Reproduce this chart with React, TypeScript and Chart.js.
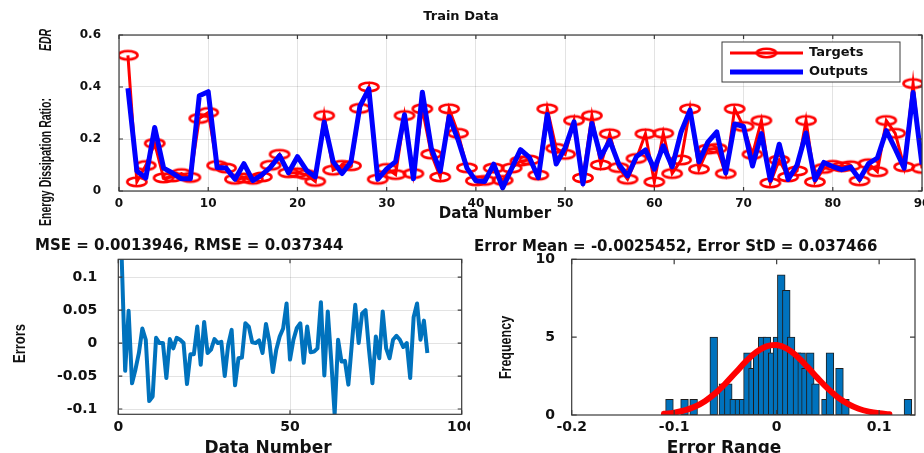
import React, { useEffect, useRef } from "react";
import { Chart, registerables } from "chart.js";

Chart.register(...registerables);

// ---------------- data ----------------
const dataNumber = Array.from({ length: 90 }, (_, i) => i + 1);

const targets = [
  0.522, 0.035, 0.098, 0.183, 0.05, 0.054, 0.067, 0.052, 0.279, 0.302,
  0.098, 0.088, 0.045, 0.05, 0.045, 0.054, 0.099, 0.141, 0.07, 0.07,
  0.063, 0.037, 0.29, 0.08, 0.099, 0.097, 0.318, 0.4, 0.045, 0.087,
  0.063, 0.29, 0.067, 0.316, 0.142, 0.054, 0.316, 0.222, 0.089, 0.039,
  0.041, 0.088, 0.041, 0.088, 0.115, 0.119, 0.061, 0.316, 0.164, 0.141,
  0.271, 0.05, 0.29, 0.1, 0.22, 0.09, 0.045, 0.125, 0.22, 0.035,
  0.222, 0.067, 0.119, 0.316, 0.084, 0.161, 0.164, 0.067, 0.316, 0.248,
  0.141, 0.271, 0.031, 0.119, 0.054, 0.077, 0.271, 0.035, 0.087, 0.099,
  0.093, 0.097, 0.039, 0.105, 0.074, 0.271, 0.222, 0.093, 0.413, 0.087,
];

const outputs = [
  0.395, 0.077, 0.05, 0.244, 0.088, 0.069, 0.047, 0.047, 0.366, 0.382,
  0.09, 0.088, 0.045, 0.105, 0.04, 0.062, 0.092, 0.136, 0.07, 0.132,
  0.08, 0.054, 0.265, 0.113, 0.067, 0.112, 0.326, 0.393, 0.045, 0.085,
  0.113, 0.293, 0.047, 0.38, 0.165, 0.076, 0.286, 0.197, 0.088, 0.039,
  0.037, 0.103, 0.012, 0.086, 0.159, 0.129, 0.051, 0.294, 0.104, 0.166,
  0.266, 0.027, 0.26, 0.13, 0.195, 0.104, 0.058, 0.133, 0.158, 0.084,
  0.174, 0.093, 0.227, 0.311, 0.112, 0.188, 0.227, 0.069, 0.258, 0.248,
  0.096, 0.221, 0.041, 0.18, 0.044, 0.1, 0.223, 0.043, 0.11, 0.094,
  0.082, 0.092, 0.045, 0.105, 0.127, 0.232, 0.162, 0.088, 0.379, 0.102,
];

const errors = [
  0.127, -0.042, 0.049, -0.061, -0.04, -0.015, 0.022, 0.005, -0.088, -0.081,
  0.008, 0, 0, -0.053, 0.006, -0.008, 0.008, 0.005, 0, -0.062,
  -0.017, -0.017, 0.025, -0.033, 0.032, -0.015, -0.01, 0.006, 0, 0.002,
  -0.05, -0.003, 0.02, -0.064, -0.023, -0.022, 0.03, 0.025, 0.001, 0,
  0.004, -0.015, 0.029, 0.002, -0.044, -0.01, 0.01, 0.022, 0.06, -0.025,
  0.005, 0.023, 0.03, -0.03, 0.025, -0.014, -0.013, -0.008, 0.062, -0.049,
  0.048, -0.026, -0.108, 0.005, -0.028, -0.027, -0.063, -0.002, 0.058, 0,
  0.045, 0.05, -0.01, -0.061, 0.01, -0.023, 0.048, -0.008, -0.023, 0.005,
  0.011, 0.005, -0.006, 0, -0.053, 0.039, 0.06, 0.005, 0.034, -0.015,
];

const histCenters = [
  -0.1046, -0.0899, -0.081, -0.0614, -0.0525, -0.0472, -0.0419, -0.0369, -0.0328, -0.0285,
  -0.0236, -0.019, -0.0141, -0.0095, -0.0044, 0.0003, 0.0045, 0.0094, 0.0141, 0.0198,
  0.0244, 0.0281, 0.0328, 0.0379, 0.0476, 0.052, 0.0613, 0.0671, 0.1281,
];
const histCounts = [
  1, 1, 1, 5, 2, 2, 1, 1, 1, 4,
  3, 4, 5, 5, 4, 5, 9, 8, 5, 4,
  4, 3, 4, 2, 1, 4, 3, 1, 1,
];

const fitX = [
  -0.11, -0.1, -0.09, -0.08, -0.07, -0.06, -0.05, -0.04, -0.03, -0.02, -0.01, 0,
  0.01, 0.02, 0.03, 0.04, 0.05, 0.06, 0.07, 0.08, 0.09, 0.1, 0.11,
];
const fitY = [
  0.074, 0.153, 0.296, 0.531, 0.89, 1.39, 2.02, 2.73, 3.44, 4.04, 4.41, 4.49,
  4.26, 3.76, 3.09, 2.37, 1.69, 1.12, 0.7, 0.4, 0.215, 0.107, 0.05,
];

const trainXTicks = [0, 10, 20, 30, 40, 50, 60, 70, 80, 90];
const trainYTicks = [0, 0.2, 0.4, 0.6];
const errXTicks = [0, 50, 100];
const errYTicks = [-0.1, -0.05, 0, 0.05, 0.1];
const histXTicks = [-0.2, -0.1, 0, 0.1];
const histYTicks = [0, 5, 10];

const trainTitle = "Train Data";
const errTitle = "MSE = 0.0013946, RMSE = 0.037344";
const histTitle = "Error Mean = -0.0025452, Error StD = 0.037466";

// ---------------- helpers ----------------
const BOLD = "'DejaVu Sans', 'Liberation Sans', sans-serif";
const SANS = "'Liberation Sans', Arial, sans-serif";
const GRID = "rgba(0,0,0,0.11)";
const TXT = "#111111";

function fixedTicks(values: number[]) {
  return (scale: any) => {
    scale.ticks = values.map((v) => ({ value: v }));
  };
}
function fitW(w: number) {
  return (scale: any) => {
    scale.width = w;
    scale.paddingTop = 0;
    scale.paddingBottom = 0;
    scale.paddingLeft = 0;
    scale.paddingRight = 0;
  };
}
function fitH(h: number) {
  return (scale: any) => {
    scale.height = h;
    scale.paddingTop = 0;
    scale.paddingBottom = 0;
    scale.paddingLeft = 0;
    scale.paddingRight = 0;
  };
}

function boxPlugin(tickLen: number) {
  return {
    id: "matlabBox",
    afterDatasetsDraw(chart: any) {
      const { ctx, chartArea: a, scales } = chart;
      ctx.save();
      ctx.strokeStyle = "#3a3a3a";
      ctx.lineWidth = 1.2;
      ctx.beginPath();
      for (const t of scales.x.ticks) {
        const px = scales.x.getPixelForValue(t.value);
        ctx.moveTo(px, a.bottom);
        ctx.lineTo(px, a.bottom - tickLen);
        ctx.moveTo(px, a.top);
        ctx.lineTo(px, a.top + tickLen);
      }
      for (const t of scales.y.ticks) {
        const py = scales.y.getPixelForValue(t.value);
        ctx.moveTo(a.left, py);
        ctx.lineTo(a.left + tickLen, py);
        ctx.moveTo(a.right, py);
        ctx.lineTo(a.right - tickLen, py);
      }
      ctx.stroke();
      ctx.strokeRect(a.left, a.top, a.right - a.left, a.bottom - a.top);
      ctx.restore();
    },
  };
}

type TextItem = {
  text: string;
  x: number;
  y: number;
  font: string;
  rotate?: number;
  sx?: number;
};

function textPlugin(items: TextItem[]) {
  return {
    id: "extraText",
    afterDraw(chart: any) {
      const ctx = chart.ctx;
      for (const t of items) {
        ctx.save();
        ctx.font = t.font;
        ctx.fillStyle = TXT;
        ctx.textAlign = "center";
        ctx.textBaseline = "middle";
        ctx.translate(t.x, t.y);
        if (t.sx) ctx.scale(t.sx, 1);
        if (t.rotate) ctx.rotate((t.rotate * Math.PI) / 180);
        ctx.fillText(t.text, 0, 0);
        ctx.restore();
      }
    },
  };
}

function legendPlugin(marker: HTMLCanvasElement) {
  return {
    id: "matlabLegend",
    afterDraw(chart: any) {
      const ctx = chart.ctx;
      const ds = chart.data.datasets;
      const bx = 722, by = 42, bw = 178, bh = 40;
      ctx.save();
      ctx.fillStyle = "#ffffff";
      ctx.fillRect(bx, by, bw, bh);
      ctx.strokeStyle = "#3a3a3a";
      ctx.lineWidth = 1;
      ctx.strokeRect(bx, by, bw, bh);
      const rows = [
        { y: by + 11, d: ds[0], marker: true },
        { y: by + 30, d: ds[1], marker: false },
      ];
      for (const r of rows) {
        ctx.strokeStyle = r.d.borderColor;
        ctx.lineWidth = r.d.borderWidth;
        ctx.beginPath();
        ctx.moveTo(730, r.y);
        ctx.lineTo(803, r.y);
        ctx.stroke();
        if (r.marker) {
          ctx.drawImage(marker, 766.5 - marker.width / 2, r.y - marker.height / 2);
        }
        ctx.fillStyle = TXT;
        ctx.font = `bold 13px ${BOLD}`;
        ctx.textAlign = "left";
        ctx.textBaseline = "middle";
        ctx.fillText(r.d.label, 809, r.y);
      }
      ctx.restore();
    },
  };
}

function makeEllipse(): HTMLCanvasElement {
  const c = document.createElement("canvas");
  c.width = 24;
  c.height = 14;
  const g = c.getContext("2d")!;
  g.strokeStyle = "#ff0000";
  g.lineWidth = 2.6;
  g.beginPath();
  g.ellipse(12, 7, 9.6, 4.2, 0, 0, Math.PI * 2);
  g.stroke();
  return c;
}

function tickFont(size: number) {
  return { family: BOLD, weight: "bold" as const, size, lineHeight: 1.2 };
}

// ---------------- component ----------------
export default function App() {
  const topRef = useRef<HTMLCanvasElement>(null);
  const errRef = useRef<HTMLCanvasElement>(null);
  const histRef = useRef<HTMLCanvasElement>(null);

  useEffect(() => {
    const marker = makeEllipse();
    Chart.defaults.font.family = BOLD;

    const top = new Chart(topRef.current!, {
      type: "line",
      data: {
        datasets: [
          {
            label: "Targets",
            data: dataNumber.map((x, i) => ({ x, y: targets[i] })),
            borderColor: "#ff0000",
            borderWidth: 3,
            pointStyle: marker as any,
            pointRadius: 7,
            pointBorderWidth: 0,
            tension: 0,
            order: 1,
          },
          {
            label: "Outputs",
            data: dataNumber.map((x, i) => ({ x, y: outputs[i] })),
            borderColor: "#0000ff",
            borderWidth: 5,
            pointRadius: 0,
            tension: 0,
            borderJoinStyle: "round",
            order: 0,
          },
        ],
      },
      options: {
        animation: false,
        responsive: false,
        events: [],
        layout: { padding: { left: 0, right: 2, top: 0, bottom: 0 }, autoPadding: false },
        plugins: {
          legend: { display: false },
          tooltip: { enabled: false },
          title: {
            display: true,
            text: trainTitle,
            color: TXT,
            font: { family: BOLD, weight: "bold", size: 13, lineHeight: 1.2 },
            padding: { top: 9.2, bottom: 10.2 },
          },
        },
        scales: {
          x: {
            type: "linear",
            min: 0,
            max: 90,
            afterBuildTicks: fixedTicks(trainXTicks),
            afterFit: fitH(37),
            grid: { color: GRID, drawTicks: false },
            border: { display: false },
            ticks: { font: tickFont(12), color: TXT, padding: 5.3, maxRotation: 0, autoSkip: false, callback: (v: any) => String(v) },
          },
          y: {
            type: "linear",
            min: 0,
            max: 0.6,
            afterBuildTicks: fixedTicks(trainYTicks),
            afterFit: fitW(119),
            grid: { color: GRID, drawTicks: false },
            border: { display: false },
            ticks: { font: tickFont(12), color: TXT, padding: 18, autoSkip: false, callback: (v: any) => String(v) },
          },
        },
      },
      plugins: [
        boxPlugin(4),
        textPlugin([
          { text: "Data Number", x: 495, y: 214, font: `bold 15px ${BOLD}` },
          { text: "Energy Dissipation Ratio:", x: 47, y: 162, font: `bold 10.5px ${SANS}`, rotate: -90, sx: 1.5 },
          { text: "EDR", x: 47, y: 40, font: `italic bold 10.5px ${SANS}`, rotate: -90, sx: 1.5 },
        ]),
        legendPlugin(marker),
      ],
    } as any);

    const err = new Chart(errRef.current!, {
      type: "line",
      data: {
        datasets: [
          {
            label: "Errors",
            data: dataNumber.map((x, i) => ({ x, y: errors[i] })),
            borderColor: "#0072BD",
            borderWidth: 4,
            pointRadius: 0,
            tension: 0,
            borderJoinStyle: "round",
          },
        ],
      },
      options: {
        animation: false,
        responsive: false,
        events: [],
        layout: { padding: { left: 35, right: 8.3, top: 0, bottom: 0 }, autoPadding: false },
        plugins: {
          legend: { display: false },
          tooltip: { enabled: false },
          title: {
            display: true,
            text: errTitle,
            align: "start",
            color: TXT,
            font: { family: BOLD, weight: "bold", size: 15, lineHeight: 1.2 },
            padding: { top: 9, bottom: 4.3 },
          },
        },
        scales: {
          x: {
            type: "linear",
            min: 0,
            max: 100,
            afterBuildTicks: fixedTicks(errXTicks),
            afterFit: fitH(38.7),
            grid: { color: GRID, drawTicks: false },
            border: { display: false },
            ticks: { font: tickFont(14), color: TXT, padding: 4.2, maxRotation: 0, autoSkip: false, callback: (v: any) => String(v) },
          },
          y: {
            type: "linear",
            min: -0.108,
            max: 0.127,
            afterBuildTicks: fixedTicks(errYTicks),
            afterFit: fitW(83.3),
            grid: { color: GRID, drawTicks: false },
            border: { display: false },
            ticks: { font: tickFont(14), color: TXT, padding: 21, autoSkip: false, callback: (v: any) => String(v) },
          },
        },
      },
      plugins: [
        boxPlugin(4),
        textPlugin([
          { text: "Data Number", x: 268, y: 221, font: `bold 17px ${BOLD}` },
          { text: "Errors", x: 20, y: 115.5, font: `bold 13px ${SANS}`, rotate: -90, sx: 1.3 },
        ]),
      ],
    } as any);

    const hist = new Chart(histRef.current!, {
      type: "bar",
      data: {
        datasets: [
          {
            type: "line",
            label: "Fit",
            data: fitX.map((x, i) => ({ x, y: fitY[i] })),
            borderColor: "#ff0000",
            borderWidth: 6,
            pointRadius: 0,
            tension: 0.4,
            borderCapStyle: "round",
            order: 0,
          },
          {
            type: "bar",
            label: "Frequency",
            data: histCenters.map((x, i) => ({ x, y: histCounts[i] })),
            backgroundColor: "#0072BD",
            borderColor: "#1e1e1e",
            borderWidth: 1,
            borderSkipped: false,
            barThickness: 7.7,
            order: 1,
          },
        ],
      },
      options: {
        animation: false,
        responsive: false,
        events: [],
        layout: { padding: { left: 4, right: 9, top: 0, bottom: 0 }, autoPadding: false },
        plugins: {
          legend: { display: false },
          tooltip: { enabled: false },
          title: {
            display: true,
            text: histTitle,
            align: "start",
            color: TXT,
            font: { family: BOLD, weight: "bold", size: 15, lineHeight: 1.2 },
            padding: { top: 10.3, bottom: 3 },
          },
        },
        scales: {
          x: {
            type: "linear",
            min: -0.2,
            max: 0.135,
            offset: false,
            afterBuildTicks: fixedTicks(histXTicks),
            afterFit: fitH(38),
            grid: { display: false, offset: false, drawTicks: false },
            border: { display: false },
            ticks: { font: tickFont(14), color: TXT, padding: 4.1, maxRotation: 0, autoSkip: false, callback: (v: any) => String(v) },
          },
          y: {
            type: "linear",
            min: 0,
            max: 10,
            afterBuildTicks: fixedTicks(histYTicks),
            afterFit: fitW(97.7),
            grid: { display: false, drawTicks: false },
            border: { display: false },
            ticks: { font: tickFont(14), color: TXT, padding: 16.7, autoSkip: false, callback: (v: any) => String(v) },
          },
        },
      },
      plugins: [
        boxPlugin(5),
        textPlugin([
          { text: "Error Range", x: 254, y: 221, font: `bold 17px ${BOLD}` },
          { text: "Frequency", x: 36.5, y: 119.5, font: `bold 12.5px ${SANS}`, rotate: -90, sx: 1.3 },
        ]),
      ],
    } as any);

    return () => {
      top.destroy();
      err.destroy();
      hist.destroy();
    };
  }, []);

  const abs = (left: number, top: number): React.CSSProperties => ({
    position: "absolute",
    left,
    top,
    display: "block",
  });

  return (
    <div
      style={{
        position: "absolute",
        left: 0,
        top: 0,
        width: 924,
        height: 453,
        overflow: "hidden",
        background: "#ffffff",
      }}
    >
      <canvas ref={topRef} width={924} height={228} style={abs(0, 0)} />
      <canvas ref={errRef} width={470} height={225} style={abs(0, 228)} />
      <canvas ref={histRef} width={454} height={225} style={abs(470, 228)} />
    </div>
  );
}
